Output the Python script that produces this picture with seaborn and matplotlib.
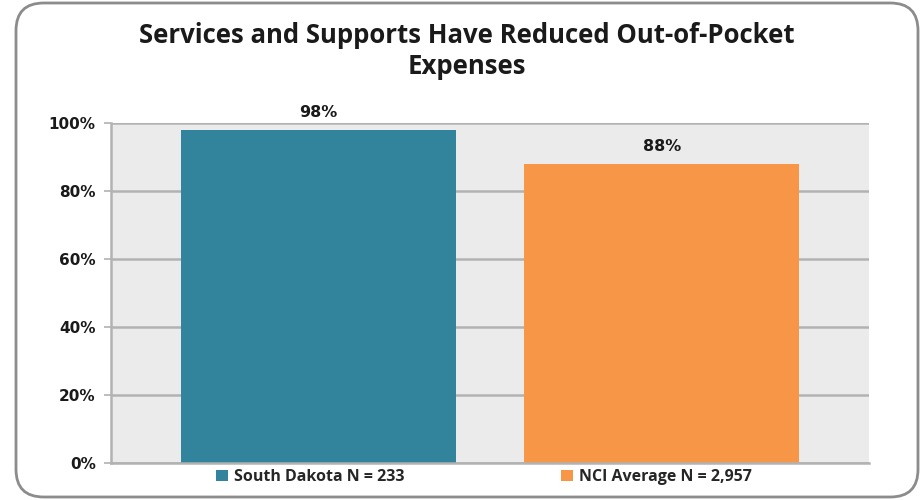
import matplotlib
matplotlib.use("Agg")
import matplotlib.pyplot as plt
from matplotlib.patches import FancyBboxPatch
import seaborn as sns
import pandas as pd

# data
categories = ["All"]
series = ["South Dakota N = 233", "NCI Average N = 2,957"]
values = [0.98, 0.88]
value_labels = ["98%", "88%"]
yticks = [0, 0.2, 0.4, 0.6, 0.8, 1.0]
ytick_labels = ["0%", "20%", "40%", "60%", "80%", "100%"]
title = "Services and Supports Have Reduced Out-of-Pocket\nExpenses"
colors = ["#31849B", "#F79646"]

df = pd.DataFrame({"cat": categories * len(series), "series": series, "value": values})

sns.set_style("white")
fig = plt.figure(figsize=(9.23, 5.0), dpi=100)
ax = fig.add_axes([111/923, 1-463/500, (869-111)/923, (463-123)/500])
ax.set_facecolor("#EBEBEB")

sns.barplot(data=df, x="cat", y="value", hue="series", hue_order=series,
            palette=colors, width=0.906, gap=0.199, saturation=1, ax=ax,
            edgecolor="none", legend=True)

ax.set_xlim(-0.5, 0.5)
ax.set_ylim(0, 1.0)
ax.set_yticks(yticks)
ax.set_yticklabels(ytick_labels, fontsize=11, fontweight="bold", family="DejaVu Sans", color="#1a1a1a")
ax.set_xticks([])
ax.set_xlabel("")
ax.set_ylabel("")
ax.yaxis.grid(True, color="#B2B2B2", linewidth=1.8)
ax.set_axisbelow(True)
ax.tick_params(axis="y", length=5, width=1.2, color="#B2B2B2", pad=6, left=True)
for s in ["top", "right"]:
    ax.spines[s].set_visible(False)
for s in ["left", "bottom"]:
    ax.spines[s].set_color("#B2B2B2")
    ax.spines[s].set_linewidth(1.8)

for cont, lab in zip(ax.containers, value_labels):
    ax.bar_label(cont, labels=[lab], padding=7, fontsize=11.5, fontweight="bold",
                 family="DejaVu Sans", color="#1a1a1a")

leg = ax.legend(loc="center", bbox_to_anchor=(484/923, 1-477/500), bbox_transform=fig.transFigure,
                ncol=2, frameon=False, handlelength=0.75, handleheight=0.75, handletextpad=0.35,
                columnspacing=9.8, prop={"family": "Open Sans", "weight": "bold", "size": 11.5})

fig.text(467/923, 1-51/500, title, ha="center", va="center", fontsize=18.5,
         fontweight="bold", family="Open Sans", color="#1a1a1a", linespacing=1.15)

border = FancyBboxPatch((16/923, 3/500), (918-16)/923, (497-3)/500,
                        boxstyle="round,pad=0,rounding_size=0.03",
                        transform=fig.transFigure, fill=False, edgecolor="#8C8C8C",
                        linewidth=2, mutation_aspect=923/500)
fig.patches.append(border)

fig.savefig("out.png", dpi=100)
